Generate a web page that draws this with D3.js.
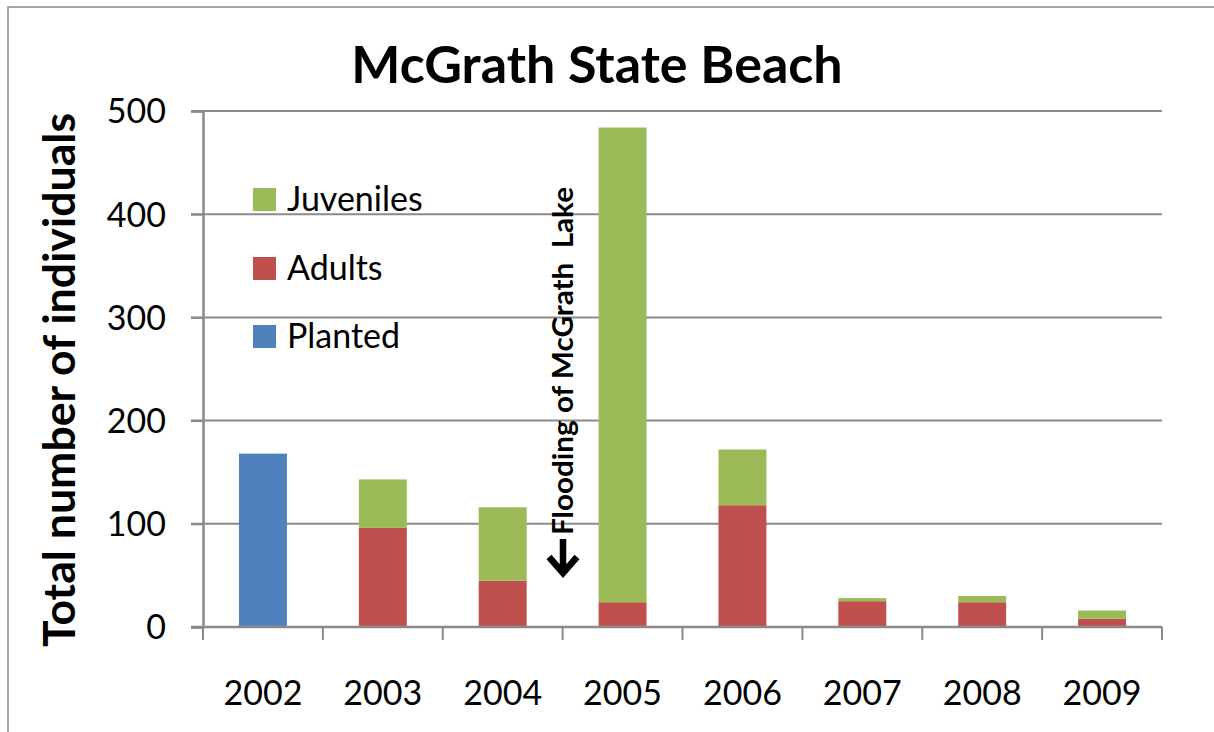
<!DOCTYPE html>
<html>
<head>
<meta charset="utf-8">
<script src="https://cdn.jsdelivr.net/npm/d3@7"></script>
<style>
  html, body { margin: 0; padding: 0; background: #fff; overflow: hidden; }
  text { font-family: Lato, "Open Sans", sans-serif; fill: #000; }
</style>
</head>
<body>
<svg id="chart" width="1214" height="732"></svg>
<script>
const title = "McGrath State Beach";
const yTitle = "Total number of individuals";
const annotation = "Flooding of McGrath  Lake";
const years = ["2002", "2003", "2004", "2005", "2006", "2007", "2008", "2009"];
const planted = [168, 0, 0, 0, 0, 0, 0, 0];
const adults = [0, 96, 45, 24, 118, 25, 24, 8];
const juveniles = [0, 47, 71, 460, 54, 3, 6, 8];
const yTicks = [0, 100, 200, 300, 400, 500];
const seriesNames = ["Planted", "Adults", "Juveniles"];
const seriesColors = ["#4F81BD", "#C0504D", "#9BBB59"];
const legendOrder = ["Juveniles", "Adults", "Planted"];

const svg = d3.select("#chart");
const gridColor = "#8a8a8a";

// outer chart border (extends beyond the visible area on right/bottom)
svg.append("rect").attr("x", 8).attr("y", 7).attr("width", 1260).attr("height", 800)
  .attr("fill", "none").attr("stroke", "#8a8a8a").attr("stroke-width", 1.5);

const x = d3.scaleBand().domain(years).range([203, 1162]).paddingInner(0).paddingOuter(0);
const y = d3.scaleLinear().domain([0, 500]).range([627, 111]);
const barW = x.bandwidth() * 0.4;

// gridlines
svg.append("g").selectAll("line").data(yTicks.filter(d => d > 0)).join("line")
  .attr("x1", 191).attr("x2", 1162)
  .attr("y1", d => y(d)).attr("y2", d => y(d))
  .attr("stroke", gridColor).attr("stroke-width", 2);

// stacked data
const rows = years.map((yr, i) => ({ year: yr, Planted: planted[i], Adults: adults[i], Juveniles: juveniles[i] }));
const stack = d3.stack().keys(seriesNames)(rows);
const color = d3.scaleOrdinal().domain(seriesNames).range(seriesColors);

svg.append("g").selectAll("g").data(stack).join("g")
  .attr("fill", d => color(d.key))
  .selectAll("rect").data(d => d.filter(s => s[1] - s[0] > 0)).join("rect")
  .attr("x", d => x(d.data.year) + (x.bandwidth() - barW) / 2)
  .attr("width", barW)
  .attr("y", d => y(d[1]))
  .attr("height", d => y(d[0]) - y(d[1]));

// y axis
const yAxis = d3.axisLeft(y).tickValues(yTicks).tickSize(12).tickPadding(25);
const gy = svg.append("g").attr("transform", "translate(203,0)").call(yAxis);
gy.select(".domain").attr("stroke", gridColor).attr("stroke-width", 2.5);
gy.selectAll(".tick line").attr("stroke", gridColor).attr("stroke-width", 2);
gy.selectAll(".tick text").attr("font-size", 34).attr("fill", "#000")
  .attr("font-family", "Lato, 'Open Sans', sans-serif").attr("dy", "0.35em");

// x axis: baseline, boundary ticks, labels
svg.append("line").attr("x1", 191).attr("x2", 1162).attr("y1", y(0)).attr("y2", y(0))
  .attr("stroke", gridColor).attr("stroke-width", 2.5);
const bounds = years.map(d => x(d)).concat([x.range()[1]]);
svg.append("g").selectAll("line").data(bounds).join("line")
  .attr("x1", d => d).attr("x2", d => d).attr("y1", y(0)).attr("y2", y(0) + 13)
  .attr("stroke", gridColor).attr("stroke-width", 2);
svg.append("g").selectAll("text").data(years).join("text")
  .attr("x", d => x(d) + x.bandwidth() / 2).attr("y", 705)
  .attr("text-anchor", "middle").attr("font-size", 34).text(d => d);

// title
svg.append("text").attr("x", 597).attr("y", 83).attr("text-anchor", "middle")
  .attr("font-size", 52).attr("font-weight", "bold").text(title);

// y title
svg.append("text").attr("transform", "translate(75,380) rotate(-90)")
  .attr("text-anchor", "middle").attr("font-size", 44).attr("font-weight", "bold")
  .attr("textLength", 534).attr("lengthAdjust", "spacingAndGlyphs").text(yTitle);

// legend
const lg = svg.append("g");
const legendY = [211, 280, 348];
legendOrder.forEach((name, i) => {
  lg.append("rect").attr("x", 253).attr("y", legendY[i] - 23).attr("width", 23).attr("height", 23)
    .attr("fill", color(name));
  lg.append("text").attr("x", 287).attr("y", legendY[i]).attr("font-size", 34).text(name);
});

// annotation (rotated text with a downward arrow)
const ann = svg.append("g").attr("transform", "translate(573,535) rotate(-90)");
ann.append("text").attr("x", 0).attr("y", 0).attr("font-size", 29).attr("font-weight", "bold")
  .style("white-space", "pre")
  .attr("textLength", 348).attr("lengthAdjust", "spacingAndGlyphs").text(annotation);
// arrow (in rotated frame pointing toward negative x => downward on screen)
ann.append("path")
  .attr("d", "M -4 -10 L -36 -10 M -22 -24 L -38 -10 L -22 4")
  .attr("fill", "none").attr("stroke", "#000").attr("stroke-width", 6.5)
  .attr("stroke-linejoin", "miter").attr("stroke-linecap", "butt");
</script>
</body>
</html>
